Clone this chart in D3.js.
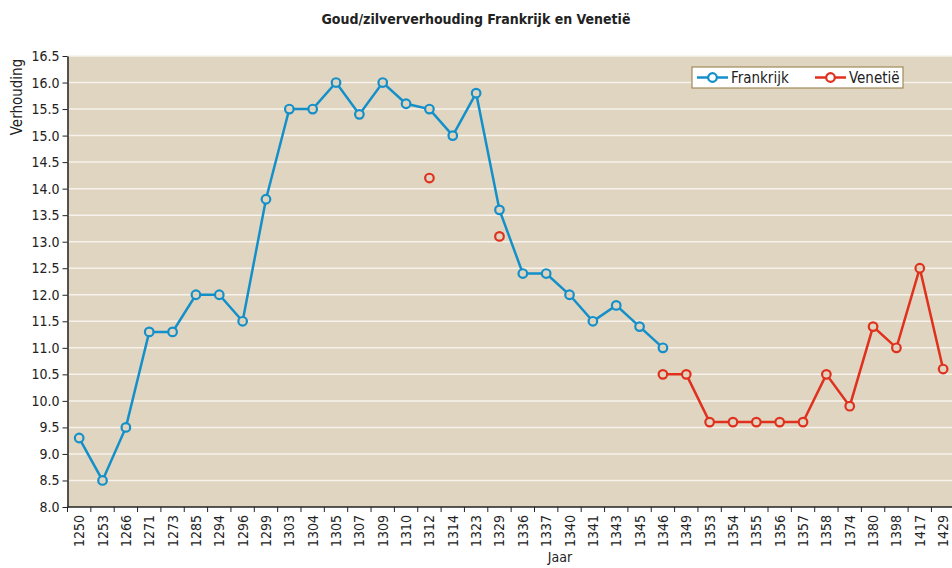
<!DOCTYPE html>
<html>
<head>
<meta charset="utf-8" />
<title>Goud/zilververhouding</title>
<style>
body { margin: 0; background: white; font-family: "Liberation Sans Narrow", "DejaVu Sans Condensed", sans-serif; }
svg text { fill: #222; }
</style>
<script src="https://d3js.org/d3.v7.min.js"></script>
</head>
<body>
<script>
var width = 952;
var height = 568;

// data
var years = [1250,1253,1266,1271,1273,1285,1294,1296,1299,1303,1304,1305,1307,1309,1310,1312,1314,1323,1329,1336,1337,1340,1341,1343,1345,1346,1349,1353,1354,1355,1356,1357,1358,1374,1380,1398,1417,1429];
var frankrijk = [9.3,8.5,9.5,11.3,11.3,12.0,12.0,11.5,13.8,15.5,15.5,16.0,15.4,16.0,15.6,15.5,15.0,15.8,13.6,12.4,12.4,12.0,11.5,11.8,11.4,11.0,null,null,null,null,null,null,null,null,null,null,null,null];
var venetie = [null,null,null,null,null,null,null,null,null,null,null,null,null,null,null,14.2,null,null,13.1,null,null,null,null,null,null,10.5,10.5,9.6,9.6,9.6,9.6,9.6,10.5,9.9,11.4,11.0,12.5,10.6];
var yTicks = d3.range(8, 16.51, 0.5);

var margin = {left: 67.5, top: 56, bottom: 507};
var bandW = 23.35;

var svg = d3.select("body").append("svg")
  .attr("width", width)
  .attr("height", height);

var x = d3.scaleBand()
  .domain(years)
  .range([margin.left, margin.left + bandW * years.length]);

var y = d3.scaleLinear()
  .domain([8, 16.5])
  .range([margin.bottom, margin.top]);

// plot background
svg.append("rect")
  .attr("x", margin.left)
  .attr("y", margin.top)
  .attr("width", x.range()[1] - margin.left)
  .attr("height", margin.bottom - margin.top)
  .attr("fill", "#e0d5c1");

// gridlines
svg.append("g").selectAll("line")
  .data(yTicks.slice(1))
  .enter().append("line")
  .attr("x1", margin.left)
  .attr("x2", x.range()[1])
  .attr("y1", function(d){ return y(d); })
  .attr("y2", function(d){ return y(d); })
  .attr("stroke", "#f7f3ec")
  .attr("stroke-width", 1.5);

// y axis
var yAxis = svg.append("g")
  .attr("transform", "translate(" + margin.left + ",0)")
  .call(d3.axisLeft(y).tickValues(yTicks).tickFormat(d3.format(".1f")).tickSize(5).tickSizeOuter(0));
yAxis.select(".domain").attr("stroke", "#222").attr("stroke-width", 1.5);
yAxis.selectAll(".tick line").attr("stroke", "#222");
yAxis.selectAll("text").attr("font-size", 14).attr("font-family", "Liberation Sans Narrow, DejaVu Sans Condensed, sans-serif").attr("x", -8).style("fill", "#222");

// x axis, ticks on the band edges
var xAxis = svg.append("g")
  .attr("transform", "translate(0," + margin.bottom + ")");
xAxis.append("line")
  .attr("x1", margin.left).attr("x2", x.range()[1])
  .attr("stroke", "#222").attr("stroke-width", 1.5);
xAxis.selectAll(".tk")
  .data(years)
  .enter().append("line")
  .attr("class", "tk")
  .attr("x1", function(d){ return x(d); })
  .attr("x2", function(d){ return x(d); })
  .attr("y1", 0).attr("y2", 5)
  .attr("stroke", "#222");
xAxis.selectAll("text")
  .data(years)
  .enter().append("text")
  .attr("transform", function(d){ return "translate(" + (x(d) + x.bandwidth()/2 + 5) + ",8) rotate(-90)"; })
  .attr("text-anchor", "end")
  .attr("font-size", 14)
  .text(function(d){ return d; });

// lines and markers
var series = [
  {name: "Frankrijk", values: frankrijk, color: "#1390c9"},
  {name: "Venetië", values: venetie, color: "#e0301e"}
];

var line = d3.line()
  .defined(function(d){ return d.v !== null; })
  .x(function(d){ return x(d.year) + x.bandwidth()/2; })
  .y(function(d){ return y(d.v); });

series.forEach(function(s){
  var pts = years.map(function(yr, i){ return {year: yr, v: s.values[i]}; });
  svg.append("path")
    .datum(pts)
    .attr("fill", "none")
    .attr("stroke", s.color)
    .attr("stroke-width", 2.5)
    .attr("d", line);
  svg.append("g").selectAll("circle")
    .data(pts.filter(function(d){ return d.v !== null; }))
    .enter().append("circle")
    .attr("cx", function(d){ return x(d.year) + x.bandwidth()/2; })
    .attr("cy", function(d){ return y(d.v); })
    .attr("r", 4.3)
    .attr("fill", "#e0d5c1")
    .attr("stroke", s.color)
    .attr("stroke-width", 2.2);
});

// legend
var lg = svg.append("g").attr("transform", "translate(692,67)");
lg.append("rect")
  .attr("width", 211).attr("height", 21)
  .attr("fill", "white")
  .attr("stroke", "#a08a5a")
  .attr("stroke-width", 1.2);
series.forEach(function(s, i){
  var ox = 5 + i * 118;
  lg.append("line").attr("x1", ox).attr("x2", ox + 31).attr("y1", 10.5).attr("y2", 10.5)
    .attr("stroke", s.color).attr("stroke-width", 2.5);
  lg.append("circle").attr("cx", ox + 15.5).attr("cy", 10.5).attr("r", 4.3)
    .attr("fill", "white").attr("stroke", s.color).attr("stroke-width", 2.2);
  lg.append("text").attr("x", ox + 34).attr("y", 16).attr("font-size", 15).text(s.name);
});

// titles
svg.append("text")
  .attr("x", 476).attr("y", 24)
  .attr("text-anchor", "middle")
  .attr("font-size", 14)
  .attr("font-weight", "bold")
  .text("Goud/zilververhouding Frankrijk en Venetië");

svg.append("text")
  .attr("transform", "translate(22,97) rotate(-90)")
  .attr("text-anchor", "middle")
  .attr("font-size", 15)
  .text("Verhouding");

svg.append("text")
  .attr("x", 560).attr("y", 562)
  .attr("text-anchor", "middle")
  .attr("font-size", 14)
  .text("Jaar");
</script>
</body>
</html>
